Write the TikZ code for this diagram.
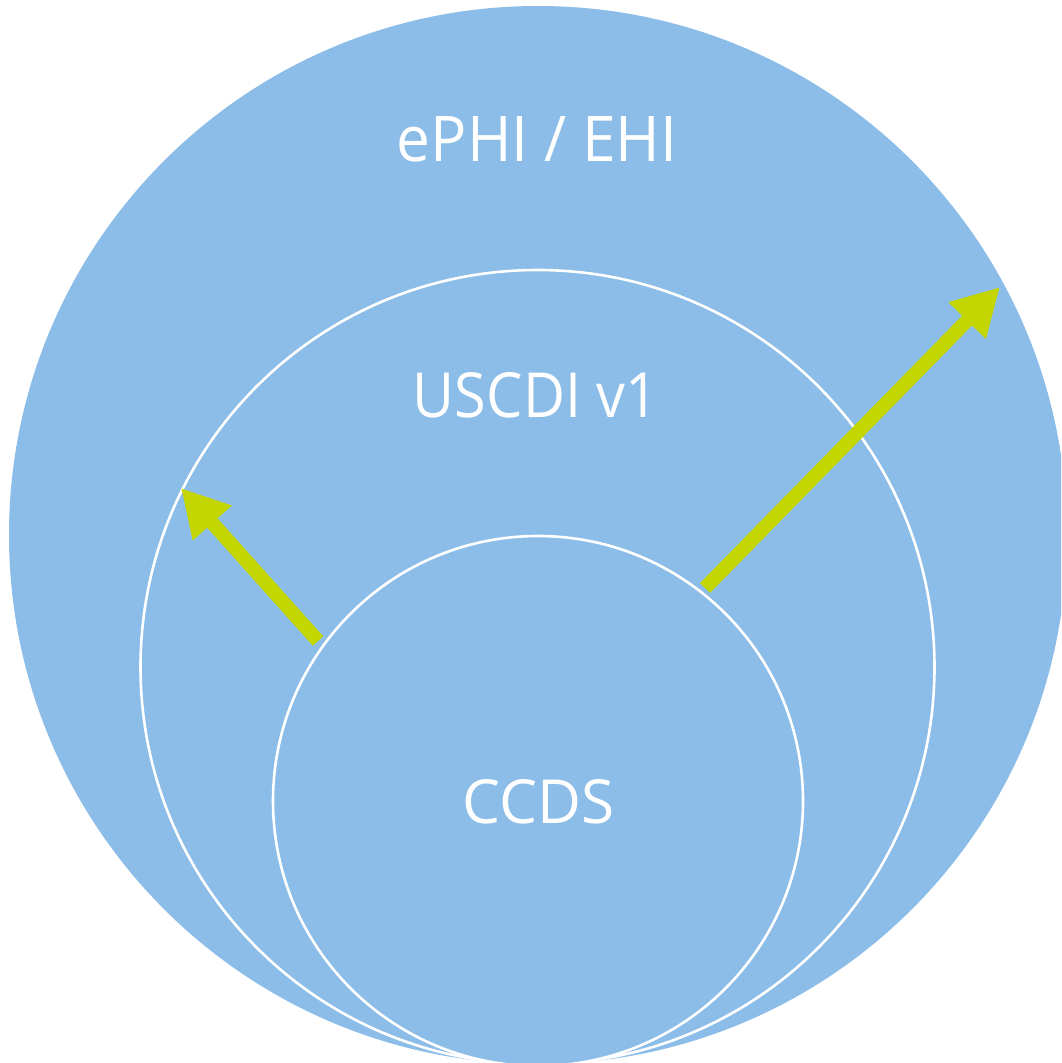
\documentclass[tikz,border=0pt]{standalone}
\usepackage{fontspec}
\setmainfont{Open Sans}
\usetikzlibrary{arrows.meta}
\definecolor{setblue}{RGB}{139,189,232}
\definecolor{arrowgreen}{RGB}{196,214,0}
\tikzset{
  setcircle/.style={circle, fill=setblue, inner sep=0pt, minimum size=#1},
  ringed/.style={draw=white, line width=2.6pt},
  setlabel/.style={text=white, inner sep=0pt, anchor=base},
  growarrow/.style={draw=arrowgreen, line width=14pt,
    -{Triangle[length=47pt, width=49pt]}}
}
\begin{document}
\begin{tikzpicture}[x=1pt, y=-1pt]
  \useasboundingbox (0,0) rectangle (1061,1063);
  \clip (0,0) rectangle (1061,1063);

  % nested data sets
  \node[setcircle=1058pt] (ephi) at (538,535) {};
  \node[setcircle=794pt, ringed] (uscdi) at (537.5,667) {};
  \node[setcircle=530pt, ringed] (ccds) at (538,801) {};

  % labels
  \node[setlabel] (ephilabel) at (537,161) {\resizebox{280pt}{45pt}{ePHI / EHI}};
  \node[setlabel] (uscdilabel) at (535.5,417) {\resizebox{245pt}{45pt}{USCDI v1}};
  \node[setlabel] (ccdslabel) at (539,823) {\resizebox{152pt}{44pt}{CCDS}};

  % expansion arrows
  \coordinate (lefttail) at (318,641);
  \coordinate (lefttip) at (181,488);
  \coordinate (righttail) at (705,588);
  \coordinate (righttip) at (1000,287);
  \draw[growarrow] (lefttail) -- (lefttip);
  \draw[growarrow] (righttail) -- (righttip);
\end{tikzpicture}
\end{document}
